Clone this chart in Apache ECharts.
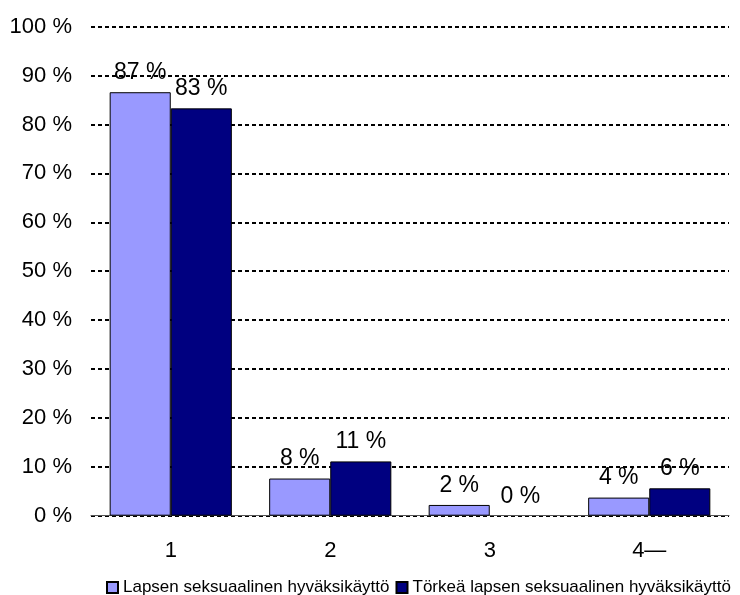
<!DOCTYPE html>
<html>
<head>
<meta charset="utf-8">
<script src="https://cdn.jsdelivr.net/npm/echarts@6/dist/echarts.min.js"></script>
<style>html,body{margin:0;padding:0;background:#fff}#c{width:740px;height:595px}</style>
</head>
<body>
<div id="c"></div>
<script>
var categories = ['1', '2', '3', '4\u2014'];
var seriesNames = ['Lapsen seksuaalinen hyväksikäyttö', 'Törkeä lapsen seksuaalinen hyväksikäyttö'];
var lapsen = [86.6, 7.6, 2.2, 3.7];
var torkea = [83.3, 11.1, 0, 5.6];
var yTicks = [0, 10, 20, 30, 40, 50, 60, 70, 80, 90, 100];

var FONT = '"Liberation Sans", Arial, sans-serif';
var chart = echarts.init(document.getElementById('c'));
function pct(v){ return Math.round(v) + ' %'; }
function barData(arr){
  return arr.map(function(v){ return v === 0 ? { value: v, itemStyle: { borderWidth: 0 } } : v; });
}
var labelCfg = {
  show: true, position: 'top', distance: 8,
  fontFamily: FONT, fontSize: 23, color: '#000',
  formatter: function(p){ return pct(p.value); }
};
chart.setOption({
  animation: false,
  backgroundColor: '#fff',
  grid: { left: 91, right: 11, top: 26.7, bottom: 79.3 },
  legend: {
    left: 106, top: 579, width: 900, padding: 0,
    itemWidth: 11, itemHeight: 11, itemGap: 6,
    textStyle: { fontFamily: FONT, fontSize: 17, color: '#000' },
    data: seriesNames.map(function(n){ return { name: n, icon: 'rect' }; })
  },
  xAxis: {
    type: 'category', data: categories,
    axisLine: { lineStyle: { color: '#555', width: 1 } },
    axisTick: { show: false },
    axisLabel: { fontFamily: FONT, fontSize: 22, color: '#000', margin: 24 }
  },
  yAxis: {
    type: 'value', min: yTicks[0], max: yTicks[yTicks.length - 1], interval: 10,
    axisLine: { show: false }, axisTick: { show: false },
    axisLabel: { fontFamily: FONT, fontSize: 22, color: '#000', margin: 19,
      formatter: function(v){ return v + ' %'; } },
    splitLine: { lineStyle: { color: '#000', width: 2, type: [4, 3] } }
  },
  series: [
    { name: seriesNames[0], type: 'bar', data: barData(lapsen), barGap: '0%', barCategoryGap: '23.4%',
      itemStyle: { color: '#9999FF', borderColor: '#000', borderWidth: 1 }, label: labelCfg },
    { name: seriesNames[1], type: 'bar', data: barData(torkea), barGap: '0%', barCategoryGap: '23.4%',
      itemStyle: { color: '#000080', borderColor: '#000', borderWidth: 1 }, label: labelCfg }
  ]
});
</script>
</body>
</html>
